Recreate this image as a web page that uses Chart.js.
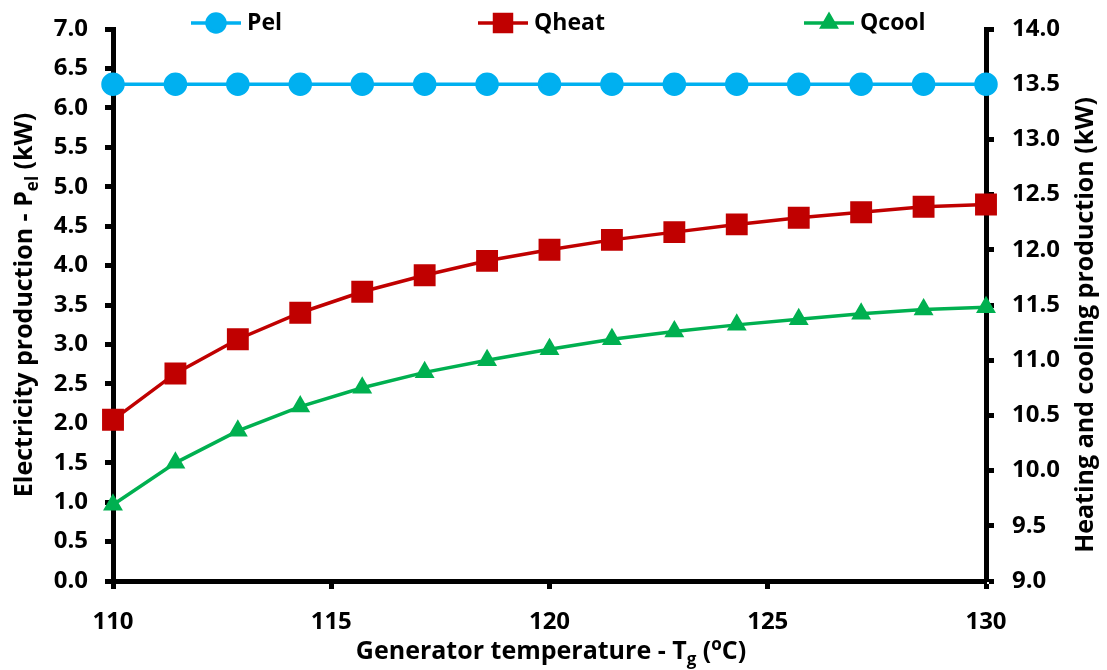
<!DOCTYPE html>
<html>
<head>
<meta charset="utf-8">
<script src="https://cdn.jsdelivr.net/npm/chart.js@4/dist/chart.umd.min.js"></script>
<style>
  body { margin: 0; background: #fff; }
</style>
</head>
<body>
<canvas id="chart" width="1107" height="670"></canvas>
<script>
// generator temperature (°C)
const temps = [110, 111.43, 112.86, 114.29, 115.71, 117.14, 118.57, 120, 121.43, 122.86, 124.29, 125.71, 127.14, 128.57, 130];
// electricity production (kW), left axis
const pel = [6.3, 6.3, 6.3, 6.3, 6.3, 6.3, 6.3, 6.3, 6.3, 6.3, 6.3, 6.3, 6.3, 6.3, 6.3];
// heating / cooling production (kW), right axis
const qheat = [10.46, 10.88, 11.19, 11.43, 11.62, 11.77, 11.90, 12.00, 12.09, 12.16, 12.23, 12.29, 12.34, 12.39, 12.41];
const qcool = [9.69, 10.07, 10.36, 10.58, 10.75, 10.89, 11.00, 11.10, 11.19, 11.26, 11.32, 11.37, 11.42, 11.46, 11.48];
const seriesNames = ['Pel', 'Qheat', 'Qcool'];

const FONT = '"Open Sans", sans-serif';

const toPoints = (vals) => vals.map((v, i) => ({ x: temps[i], y: v }));

// draws a string made of pieces (normal / subscript / superscript), centred on cx,cy
function drawRich(ctx, parts, cx, cy, angle) {
  const big = 'bold 25px ' + FONT;
  const small = 'bold 17px ' + FONT;
  ctx.save();
  ctx.translate(cx, cy);
  ctx.rotate(angle);
  ctx.textBaseline = 'middle';
  ctx.textAlign = 'left';
  let total = 0;
  parts.forEach(p => {
    ctx.font = p[1] ? small : big;
    total += ctx.measureText(p[0]).width;
  });
  let x = -total / 2;
  parts.forEach(p => {
    ctx.font = p[1] ? small : big;
    const dy = p[1] === 1 ? 8 : (p[1] === 2 ? -7 : 0);
    ctx.fillText(p[0], x, dy);
    x += ctx.measureText(p[0]).width;
  });
  ctx.restore();
}

const axisTitles = {
  id: 'axisTitles',
  afterDraw(chart) {
    const ctx = chart.ctx;
    ctx.fillStyle = '#000';
    drawRich(ctx, [['Generator temperature - T', 0], ['g', 1], [' (', 0], ['o', 2], ['C)', 0]], 551, 652, 0);
    drawRich(ctx, [['Electricity production - P', 0], ['el', 1], [' (kW)', 0]], 25, 305, -Math.PI / 2);
    drawRich(ctx, [['Heating and cooling production (kW)', 0]], 1086, 325, -Math.PI / 2);
  }
};

// legend sits inside the top of the plot, like the original
const insideLegend = {
  id: 'insideLegend',
  afterDraw(chart) {
    const ctx = chart.ctx;
    const spots = [191, 478, 804];
    const y = 23;
    chart.data.datasets.forEach((ds, i) => {
      const x1 = spots[i];
      ctx.save();
      ctx.strokeStyle = ds.borderColor;
      ctx.lineWidth = 3.5;
      ctx.beginPath();
      ctx.moveTo(x1, y);
      ctx.lineTo(x1 + 50, y);
      ctx.stroke();
      ctx.fillStyle = ds.pointBackgroundColor;
      ctx.strokeStyle = ds.pointBorderColor;
      Chart.helpers.drawPoint(ctx, {
        pointStyle: ds.pointStyle,
        radius: ds.legendRadius,
        rotation: 0,
        borderWidth: 1
      }, x1 + 25, y);
      ctx.fillStyle = '#000';
      ctx.font = 'bold 23px ' + FONT;
      ctx.textBaseline = 'middle';
      ctx.fillText(ds.label, x1 + 56, y);
      ctx.restore();
    });
  }
};

const axisStyle = {
  border: { color: '#000', width: 5 },
  grid: { drawOnChartArea: false, drawTicks: true, tickLength: 8, tickWidth: 5, tickColor: '#000' },
};

// fixed axis sizes so the plot box lands where the original one is
const fixY = (w) => (s) => { s.width = w; s.paddingTop = 0; s.paddingBottom = 0; };

new Chart(document.getElementById('chart'), {
  type: 'line',
  data: {
    datasets: [
      {
        label: seriesNames[0],
        data: toPoints(pel),
        yAxisID: 'y',
        borderColor: '#00B0F0',
        backgroundColor: '#00B0F0',
        pointBackgroundColor: '#00B0F0',
        pointBorderColor: '#00B0F0',
        borderWidth: 3.5,
        pointStyle: 'circle',
        pointRadius: 10,
        legendRadius: 9,
        clip: false,
      },
      {
        label: seriesNames[1],
        data: toPoints(qheat),
        yAxisID: 'y1',
        borderColor: '#C00000',
        backgroundColor: '#C00000',
        pointBackgroundColor: '#C00000',
        pointBorderColor: '#C00000',
        borderWidth: 3.5,
        pointStyle: 'rect',
        pointRadius: 13,
        legendRadius: 12,
        clip: false,
      },
      {
        label: seriesNames[2],
        data: toPoints(qcool),
        yAxisID: 'y1',
        borderColor: '#00B050',
        backgroundColor: '#00B050',
        pointBackgroundColor: '#00B050',
        pointBorderColor: '#00B050',
        borderWidth: 3.5,
        pointStyle: 'triangle',
        pointRadius: 8,
        legendRadius: 8,
        clip: false,
      },
    ],
  },
  options: {
    responsive: false,
    animation: false,
    layout: { padding: { top: 29, left: 0, right: 0, bottom: 0 } },
    elements: { line: { tension: 0 } },
    scales: {
      x: {
        type: 'linear',
        min: 110,
        max: 130,
        ...axisStyle,
        afterFit: (s) => { s.height = 89; s.paddingLeft = 0; s.paddingRight = 0; },
        ticks: {
          stepSize: 5,
          color: '#000',
          padding: 19,
          font: { family: FONT, size: 24, weight: 'bold' },
          callback: (v) => v.toFixed(0),
        },
      },
      y: {
        position: 'left',
        min: 0,
        max: 7,
        ...axisStyle,
        afterFit: fixY(113),
        ticks: {
          stepSize: 0.5,
          autoSkip: false,
          color: '#000',
          padding: 17,
          font: { family: FONT, size: 24, weight: 'bold' },
          callback: (v) => v.toFixed(1),
        },
      },
      y1: {
        position: 'right',
        min: 9,
        max: 14,
        ...axisStyle,
        afterFit: fixY(121),
        ticks: {
          stepSize: 0.5,
          autoSkip: false,
          color: '#000',
          padding: 18,
          font: { family: FONT, size: 24, weight: 'bold' },
          callback: (v) => v.toFixed(1),
        },
      },
    },
    plugins: {
      legend: { display: false },
      tooltip: { enabled: false },
    },
  },
  plugins: [axisTitles, insideLegend],
});
</script>
</body>
</html>
